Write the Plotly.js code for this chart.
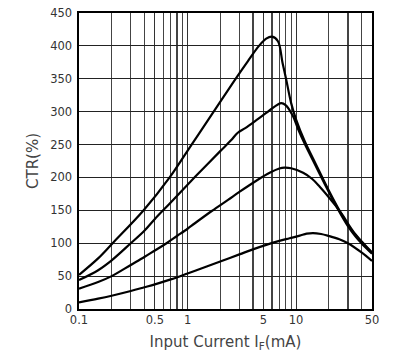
<!DOCTYPE html>
<html>
<head>
<meta charset="utf-8">
<script src="https://cdn.plot.ly/plotly-3.0.1.min.js"></script>
<style>
  html, body { margin: 0; padding: 0; background: #fff; }
  #chart { width: 413px; height: 359px; }
</style>
</head>
<body>
<div id="chart"></div>
<script>
// Labelled ticks and grid positions on the log x axis
const xTickVals = [0.1, 0.5, 1, 5, 10, 50];
const xTickText = ['0.1', '0.5', '1', '5', '10', '50'];
const xGridVals = [0.1,0.2,0.3,0.4,0.5,0.6,0.7,0.8,0.9,1,2,3,4,5,6,7,8,9,10,20,30,40,50];
const yTickVals = [0,50,100,150,200,250,300,350,400,450];

// Curve A (highest peak ~415 %)
const ifA  = [0.1,0.15,0.204,0.394,0.684,1.09,1.74,2.77,3.6,4.55,5.3,6,6.8,7.5,8.1,9,10,12,15,20,25,30,35,40,50];
const ctrA = [52,77,100,150,200,250,300,350,377,400,411,414,407,374,349,313,288,255,222,180,150,128,113,102,85];

// Curve B (peak ~313 %)
const ifB  = [0.1,0.15,0.2,0.3,0.4,0.5,0.7,1,1.5,2,2.5,2.9,3.4,4.3,5.3,6,6.8,7.3,8,9.3,10.4,12,15,20,25,30,35,40,50];
const ctrB = [44,59,74,100,119,137,162,189,219,240,256,268,275,287,298,305,311,313,310,294,274,251,219,178,148,126,111,100,84];

// Curve C (peak ~215 %)
const ifC  = [0.1,0.15,0.2,0.3,0.4,0.5,0.64,0.8,1,1.16,1.67,2.36,3,4.3,5.7,7,7.8,9,11.6,14,16.5,20,23.4,27,30,35,40,50];
const ctrC = [31,41,50,67,79,89,100,111,122,130,149,166,178,195,207,213.5,215,214,207,198,186,170,156,142,130,114,103,86];

// Curve D (lowest, peak ~115 %)
const ifD  = [0.1,0.15,0.2,0.3,0.4,0.5,0.7,1,1.5,2,3,4,5.3,7,8.7,10.8,12.5,14.3,17,20,25,30,40,50];
const ctrD = [10,15.7,20.2,27.3,33,37.5,45,54,64.5,72.3,83,90.7,97.5,103.5,107.5,111.5,114.5,115.5,114,111,106,100,86,73];

const lineStyle = {color: '#000', width: 2.2, shape: 'spline', smoothing: 1};
const series = [[ifA, ctrA], [ifB, ctrB], [ifC, ctrC], [ifD, ctrD]];
const traces = series.map(s => ({
  x: s[0], y: s[1], type: 'scatter', mode: 'lines',
  line: lineStyle, hoverinfo: 'skip', showlegend: false
}));

const layout = {
  width: 413, height: 359,
  margin: {l: 79, r: 41, t: 13, b: 50},
  paper_bgcolor: '#fff', plot_bgcolor: '#fff',
  font: {family: 'DejaVu Sans, sans-serif', color: '#333', size: 12},
  showlegend: false,
  xaxis: {
    type: 'log',
    range: [Math.log10(0.1), Math.log10(50)],
    tickmode: 'array', tickvals: xTickVals, ticktext: xTickText,
    ticks: '', showgrid: true, gridcolor: '#333', gridwidth: 1.2,
    minor: {tickmode: 'array', tickvals: xGridVals, ticks: '', showgrid: true, gridcolor: '#444', gridwidth: 1.2},
    showline: true, mirror: true, linecolor: '#000', linewidth: 1.6,
    zeroline: false,
    tickfont: {size: 11.5, color: '#333'},
    title: {text: 'Input Current I<sub>F</sub>(mA)', font: {size: 15, color: '#444'}, standoff: 10}
  },
  yaxis: {
    range: [0, 450],
    tickmode: 'array', tickvals: yTickVals,
    ticks: '', showgrid: true, gridcolor: '#222', gridwidth: 1.2,
    showline: true, mirror: true, linecolor: '#000', linewidth: 1.6,
    zeroline: false,
    tickfont: {size: 11.5, color: '#333'},
    ticklabelstandoff: 3,
    title: {text: 'CTR(%)', font: {size: 15, color: '#444'}, standoff: 8}
  }
};

Plotly.newPlot('chart', traces, layout, {staticPlot: true, displayModeBar: false});
</script>
</body>
</html>
